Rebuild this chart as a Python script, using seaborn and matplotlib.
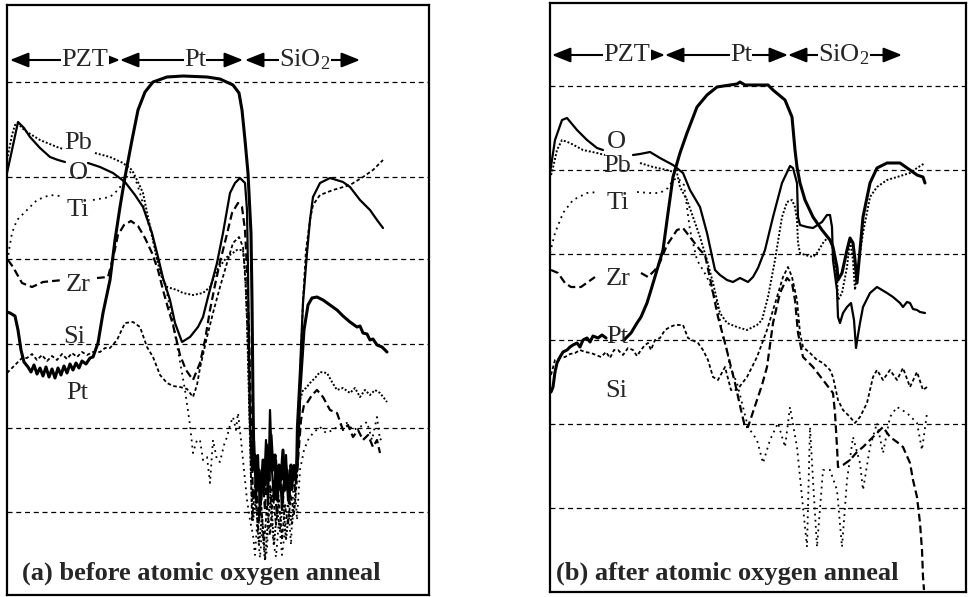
import matplotlib
matplotlib.use("Agg")
import matplotlib.pyplot as plt
import pandas as pd
import seaborn as sns

# ---------------- data: depth (a.u.) vs log-intensity level (a.u.) ----------------
# None marks a break in the trace (where a label sits)
# ---- panel (a) before atomic oxygen anneal ----
a_pt = [(0,283),(3,282),(8,279),(11,265),(14,245),(17,233),(21,228),(24,223),(27,230),(30,221),(33,227),(36,219),
        (39,228),(42,218),(45,226),(48,217),(51,227),(54,220),(57,229),(60,222),(63,231),(66,225),(69,232),(72,227),
        (75,234),(79,231),(83,237),(86,238),(91,252),(96,282),(103,315),(108,355),(113,388),(118,418),(125,455),
        (131,485),(138,503),(146,513),(160,518),(176,519),(200,518),(213,516),(226,510),(232,502),(235,485),(238,455),
        (241,422),(244,362),(245,295),(246,195),(247,125),(248,140),(250,105),(252,125),(254,95),(256,135),(258,110),
        (260,150),(262,115),(264,160),(266,125),(268,140),(270,95),(272,130),(274,115),(276,145),(278,105),(280,125),
        (282,95),(284,130),(286,115),(288,123),(290,125),(293,205),(297,265),(301,290),(305,297),(310,298),(316,295),
        (323,290),(330,285),(336,279),(343,273),(350,268),(353,269),(356,262),(360,261),(363,255),(366,256),(370,250),
        (375,248),(380,243)]
a_o = [(0,422),(5,445),(11,473),(17,467),(23,458),(33,447),(43,438),(51,435),(58,433),(70,None),(81,432),(93,428),
       (106,422),(118,413),(128,400),(136,388),(145,362),(151,338),(156,317),(163,295),(168,272),(175,253),(183,258),
       (191,268),(196,278),(201,298),(210,332),(216,362),(223,402),(228,412),(233,417),(238,412),(240,385),(241,325),
       (242,245),(243,175),(245,125),(247,155),(249,95),(251,140),(253,80),(255,125),(257,105),(259,155),(261,90),
       (263,185),(265,125),(267,95),(269,135),(271,100),(273,125),(275,85),(277,115),(279,140),(281,95),(283,125),
       (285,105),(287,130),(289,115),(290,168),(293,225),(296,292),(300,342),(303,375),(306,398),(313,412),(323,417),
       (336,413),(343,408),(353,395),(363,385),(370,375),(376,367)]
a_pb = [(0,435),(5,460),(8,470),(11,472),(15,467),(20,463),(33,455),(50,448),(56,446),(72,None),(88,442),(103,438),
        (116,432),(125,425),(131,413),(136,402),(141,378),(146,355),(150,335),(155,317),(160,308),(170,305),(176,302),
        (186,300),(196,302),(203,308),(210,325),(220,338),(230,345),(236,345),(238,325),(240,275),(242,195),(244,115),
        (246,75),(249,95),(252,50),(255,80),(258,35),(261,75),(264,95),(267,50),(270,85),(273,65),(276,95),(279,55),
        (282,85),(285,70),(288,100),(291,145),(293,195),(296,205),(299,207),(303,212),(308,217),(313,223),(320,222),
        (325,213),(330,205),(336,207),(343,202),(348,207),(353,198),(358,205),(363,200),(368,205),(373,202),(377,197),
        (380,193)]
a_ti = [(0,328),(2,345),(5,362),(10,375),(20,385),(30,395),(43,400),(53,399),(70,None),(86,395),(103,398),(111,405),
        (118,415),(123,423),(128,417),(133,402),(139,380),(146,355),(153,328),(160,302),(166,272),(173,233),(178,205),
        (183,170),(186,142),(190,155),(193,155),(196,135),(200,138),(203,112),(206,155),(210,135),(213,133),(217,150),
        (220,158),(223,170),(226,178),(229,165),(231,182),(234,155),(237,125),(240,95),(243,75),(246,60),(248,40),
        (250,70),(253,37),(255,65),(258,35),(260,45),(263,105),(266,55),(269,38),(272,75),(275,40),(278,65),(281,95),
        (284,50),(287,125),(290,75),(293,125),(297,145),(301,155),(306,162),(313,168),(319,162),(326,165),(333,170),
        (340,172),(346,165),(353,168),(360,173),(365,155),(370,178),(373,155),(376,158)]
a_zr = [(1,335),(6,328),(15,312),(25,308),(36,313),(56,315),(72,None),(90,317),(101,318),(106,337),(111,360),
        (117,370),(124,374),(131,369),(138,357),(145,342),(151,325),(156,305),(161,287),(166,270),(173,240),(179,225),
        (186,215),(193,232),(198,255),(203,285),(208,310),(213,333),(219,357),(225,382),(231,392),(235,388),(238,365),
        (240,325),(242,265),(244,175),(246,95),(249,115),(252,75),(255,125),(258,85),(261,140),(264,95),(267,115),
        (270,80),(273,125),(276,95),(279,130),(282,90),(285,125),(288,105),(291,135),(294,175),(297,190),(300,192),
        (305,200),(310,205),(316,198),(323,185),(330,182),(336,165),(341,170),(346,158),(351,165),(356,155),(361,160),
        (366,148),(370,155),(373,142)]
a_si = [(0,222),(5,227),(11,233),(15,237),(20,237),(25,241),(30,235),(35,240),(40,234),(45,239),(50,235),(55,241),
        (60,236),(65,242),(70,238),(75,243),(80,240),(86,243),(93,243),(98,247),(103,247),(110,255),(118,272),(126,273),
        (133,268),(140,248),(146,238),(153,220),(160,212),(166,209),(173,208),(180,206),(186,198),(190,210),(193,227),
        (200,258),(206,282),(213,308),(220,332),(226,352),(232,358),(236,348),(239,305),(241,245),(243,165),(245,75),
        (248,105),(251,65),(254,95),(257,50),(260,90),(263,60),(266,100),(269,70),(272,95),(275,55),(278,90),(281,70),
        (284,100),(287,80),(290,115),(293,215),(296,295),(299,345),(303,375),(306,390),(313,400),(326,405),(343,410),
        (356,418),(366,425),(376,435)]

# ---- panel (b) after atomic oxygen anneal ----
b_pt = [(1,200),(3,205),(5,220),(7,229),(10,235),(13,240),(17,242),(20,245),(23,247),(27,249),(30,245),(33,252),
        (37,254),(40,250),(43,256),(48,254),(52,257),(56,254),(66,None),(74,252),(81,259),(87,269),(91,275),(97,289),
        (101,302),(107,322),(113,342),(118,379),(123,415),(130,439),(137,459),(147,485),(157,497),(167,505),(180,507),
        (187,508),(190,510),(195,507),(203,507),(218,507),(223,502),(235,492),(242,475),(245,442),(247,425),(250,409),
        (255,392),(263,375),(272,362),(280,352),(283,345),(287,325),(288,312),(292,319),(297,342),(300,354),(303,349),
        (305,332),(307,309),(310,342),(313,375),(320,409),(327,424),(337,429),(350,429),(360,422),(367,417),(373,415),
        (375,409)]
b_o = [(0,419),(5,452),(12,472),(17,474),(27,462),(37,452),(47,444),(53,442),(68,None),(83,437),(90,438),(100,440),
       (110,434),(123,427),(133,419),(140,402),(150,385),(157,359),(165,322),(170,317),(177,312),(183,310),(190,314),
       (198,310),(203,315),(208,324),(215,342),(223,375),(232,409),(240,426),(243,424),(247,409),(248,375),(250,367),
       (257,365),(263,364),(272,370),(277,377),(280,377),(282,365),(283,332),(287,302),(288,275),(290,269),(293,279),
       (297,285),(301,289),(304,272),(306,244),(308,257),(310,269),(313,285),(320,299),(327,305),(332,302),(337,299),
       (343,295),(350,289),(353,285),(357,290),(360,289),(363,283),(367,282),(370,280),(375,279)]
b_pb = [(1,417),(2,420),(7,442),(12,452),(20,449),(33,442),(47,439),(55,437),(70,None),(90,429),(103,425),(117,422),
        (127,419),(130,405),(137,392),(143,375),(150,355),(157,332),(163,309),(170,279),(177,269),(187,265),(197,262),
        (207,267),(212,272),(218,295),(225,332),(232,375),(237,390),(242,392),(245,385),(247,372),(248,349),(250,339),
        (255,337),(263,335),(267,339),(273,349),(278,355),(282,349),(287,315),(288,292),(292,299),(297,325),(300,352),
        (303,332),(305,302),(308,325),(313,359),(320,395),(327,405),(337,412),(347,415),(360,419),(367,424),(375,429)]
b_ti = [(0,339),(5,359),(13,379),(23,392),(37,399),(48,400),(68,None),(87,400),(100,399),(110,399),(118,404),
        (123,412),(128,414),(134,407),(140,362),(147,332),(157,315),(167,289),(170,272),(173,255),(177,242),(180,225),
        (187,209),(193,185),(198,165),(207,152),(213,129),(220,152),(228,169),(235,145),(240,185),(247,145),(253,85),
        (257,45),(260,165),(263,112),(267,45),(273,122),(280,122),(287,102),(292,45),(297,112),(303,155),(310,129),
        (313,102),(320,145),(327,169),(333,139),(340,175),(347,185),(357,179),(367,169),(372,142),(377,179)]
b_zr = [(1,322),(8,319),(15,309),(21,305),(31,305),(38,310),(45,315),(68,None),(91,319),(98,315),(105,322),(110,330),
        (117,347),(127,362),(133,364),(140,355),(150,342),(155,337),(161,309),(168,275),(175,249),(185,209),(191,182),
        (195,165),(198,165),(202,177),(207,192),(212,207),(217,225),(223,269),(230,299),(237,314),(242,309),(245,292),
        (248,259),(253,235),(263,225),(273,212),(283,199),(285,179),(287,145),(288,125),(293,127),(300,132),(307,140),
        (313,145),(320,152),(323,155),(328,160),(333,165),(340,155),(347,150),(353,145),(360,129),(363,112),(367,95),
        (370,69),(372,42),(373,15),(374,2)]
b_si = [(1,217),(5,232),(10,234),(15,235),(20,238),(25,239),(30,242),(35,240),(41,239),(46,237),(51,235),(56,240),
        (60,234),(64,242),(68,242),(73,237),(78,244),(83,242),(87,236),(91,242),(95,247),(98,249),(101,242),(105,252),
        (110,254),(115,262),(120,265),(125,267),(133,267),(138,254),(148,249),(153,242),(158,232),(163,215),(168,212),
        (175,225),(181,202),(187,202),(197,215),(207,235),(217,262),(227,295),(233,315),(238,325),(242,315),(247,292),
        (250,259),(253,245),(260,239),(267,232),(273,229),(280,222),(283,215),(288,192),(293,182),(300,175),(305,169),
        (310,175),(317,189),(323,215),(327,222),(333,212),(340,222),(347,212),(353,224),(360,205),(367,220),(373,202),
        (377,205)]

elements = ["Pt", "O", "Pb", "Ti", "Zr", "Si"]
panel_a = dict(zip(elements, [a_pt, a_o, a_pb, a_ti, a_zr, a_si]))
panel_b = dict(zip(elements, [b_pt, b_o, b_pb, b_ti, b_zr, b_si]))

grid_a = [83, 167, 251, 336, 418, 513]
grid_b = [84, 168, 252, 338, 422, 506]

# element labels (depth, level)
labels_a = {"Pb": (71, 452), "O": (71, 422), "Ti": (71, 385), "Zr": (71, 310), "Si": (67, 258), "Pt": (70, 202)}
labels_b = {"O": (66, 450), "Pb": (67, 426), "Ti": (68, 389), "Zr": (68, 313), "Pt": (67, 255), "Si": (66, 201)}

# layer bars: (label, start, end, label centre)
layers_a = [("PZT", 3, 113, 78), ("Pt", 113, 236, 188), ("SiO$_2$", 238, 353, 298)]
layers_b = [("PZT", 2, 115, 77), ("Pt", 115, 238, 191), ("SiO$_2$", 238, 352, 294)]

captions = ["(a) before atomic oxygen anneal", "(b) after atomic oxygen anneal"]

# ---------------- style ----------------
sns.set_style("white")
plt.rcParams["font.family"] = ["Liberation Serif", "DejaVu Serif"]
plt.rcParams["mathtext.fontset"] = "custom"
plt.rcParams["mathtext.rm"] = "Liberation Serif"
plt.rcParams["mathtext.it"] = "Liberation Serif:italic"

FS = 19
line_style = {
    "Pt": dict(lw=2.2, ls="-"),
    "O":  dict(lw=1.6, ls="-"),
    "Pb": dict(lw=1.4, ls=(0, (1.0, 1.0))),
    "Ti": dict(lw=1.3, ls=(0, (1.0, 2.4))),
    "Zr": dict(lw=1.6, ls=(0, (3.5, 1.8))),
    "Si": dict(lw=1.3, ls=(0, (2.0, 1.4))),
}


def to_frame(points):
    rows, seg = [], 0
    for x, y in points:
        if y is None:
            seg += 1
            continue
        rows.append((x, y, seg))
    return pd.DataFrame(rows, columns=["depth", "level", "seg"])


fig = plt.figure(figsize=(9.69, 5.97), dpi=100)
ax_a = fig.add_axes([7 / 969, 2 / 597, 422 / 969, 590 / 597])
ax_b = fig.add_axes([550 / 969, 5 / 597, 416 / 969, 589 / 597])

setups = [
    (ax_a, panel_a, grid_a, labels_a, layers_a, captions[0], (0, 422), (0, 590), 535, (15, 22)),
    (ax_b, panel_b, grid_b, labels_b, layers_b, captions[1], (0, 416), (0, 589), 537, (6, 19)),
]

for ax, panel, grid, labels, layers, caption, xl, yl, ybar, cap_xy in setups:
    for g in grid:
        ax.axhline(g, color="black", lw=0.9, ls=(0, (4, 3)), zorder=1)
    for el, pts in panel.items():
        df = to_frame(pts)
        st = line_style[el]
        sns.lineplot(data=df, x="depth", y="level", units="seg", estimator=None, sort=False,
                     color="black", lw=st["lw"], linestyle=st["ls"], ax=ax, legend=False, zorder=3)
    for el, (x, y) in labels.items():
        ax.text(x, y, el, ha="center", va="center", fontsize=FS, zorder=6)
    for name, x0, x1, xc in layers:
        ax.text(xc, ybar, name, ha="center", va="center", fontsize=FS, zorder=5,
                bbox=dict(fc="white", ec="none", pad=0.1))
        ax.annotate("", xy=(x1, ybar), xytext=(x0, ybar),
                    arrowprops=dict(arrowstyle="<|-|>,head_length=0.75,head_width=0.3",
                                    color="black", lw=1.5, shrinkA=0, shrinkB=0, mutation_scale=15),
                    zorder=4)
    ax.text(cap_xy[0], cap_xy[1], caption, ha="left", va="center", fontsize=FS,
            fontweight="bold", zorder=6)
    ax.set_xlim(*xl)
    ax.set_ylim(*yl)
    ax.set_xticks([])
    ax.set_yticks([])
    ax.set_xlabel("")
    ax.set_ylabel("")
    for sp in ax.spines.values():
        sp.set_visible(True)
        sp.set_color("black")
        sp.set_linewidth(1.6)

fig.savefig("out.png", dpi=100, facecolor="white")
